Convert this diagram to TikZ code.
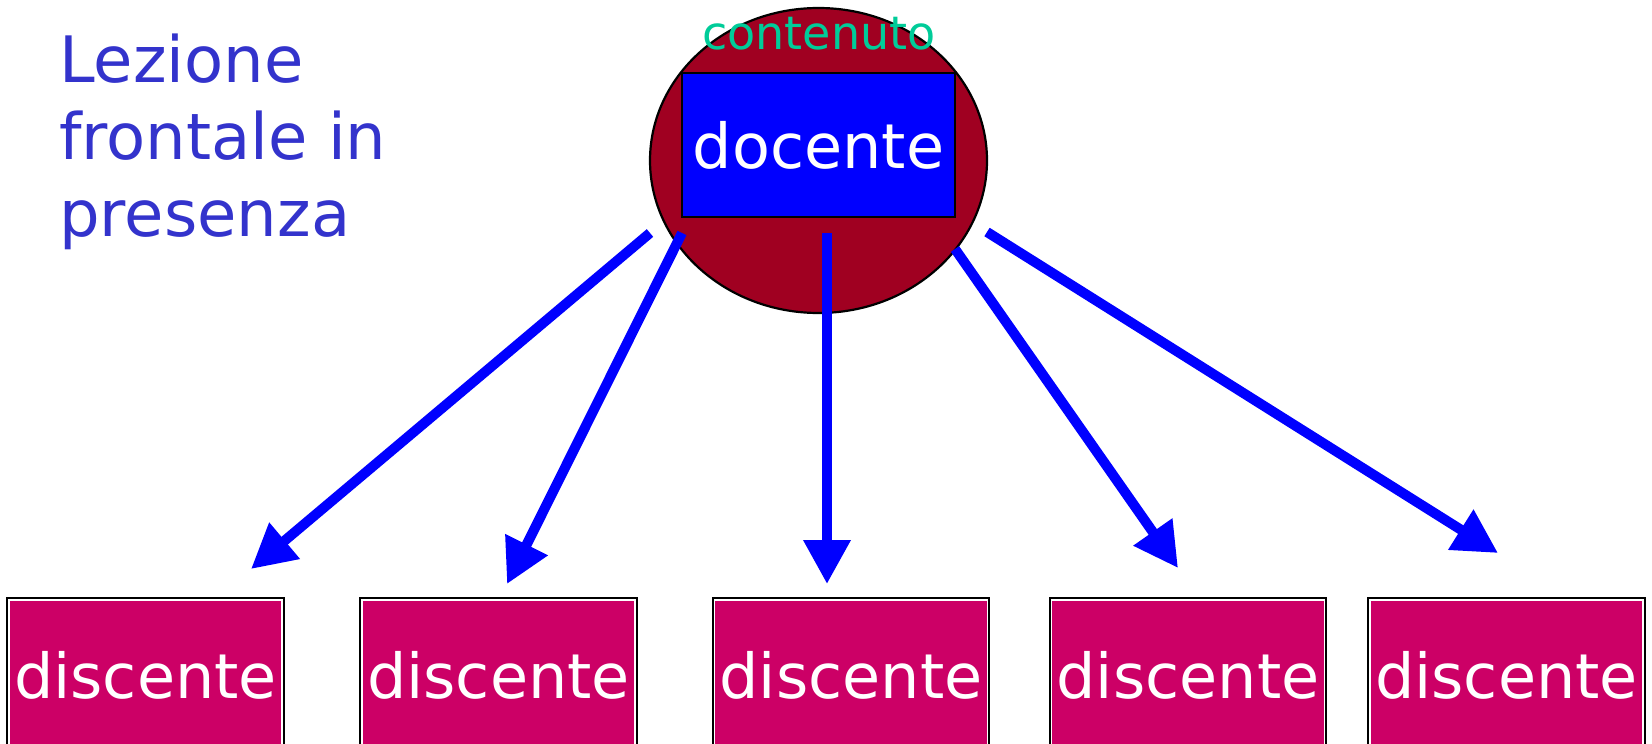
\documentclass[tikz,border=0pt]{standalone}
\usepackage{fontspec}
\setmainfont{DejaVu Sans}
\usetikzlibrary{shapes.geometric,arrows.meta}
\definecolor{ellred}{HTML}{A00021}
\definecolor{boxmag}{HTML}{CC0066}
\definecolor{docblue}{HTML}{0000FF}
\definecolor{titleblue}{HTML}{3333CC}
\definecolor{contgreen}{HTML}{00CC99}
\tikzset{
  pupil/.style={rectangle, inner sep=0pt, minimum width=273pt, minimum height=150pt,
    preaction={draw=black, line width=5.5pt}, fill=boxmag, draw=white, line width=1.5pt,
    text=white, font=\fontsize{62}{62}\selectfont},
  teacher/.style={rectangle, inner sep=0pt, minimum width=273pt, minimum height=144pt,
    fill=docblue, draw=black, line width=2.2pt, text=white, font=\fontsize{62}{62}\selectfont},
  bubble/.style={ellipse, inner sep=0pt, minimum width=337pt, minimum height=305pt,
    fill=ellred, draw=black, line width=2.2pt},
  flow/.style={draw=docblue, line width=10pt,
    -{Triangle[length=44pt,width=45pt]}},
}
\begin{document}
\begin{tikzpicture}[x=1pt,y=-1pt]
\useasboundingbox (0,0) rectangle (1652,744);
\clip (0,0) rectangle (1652,744);
\fill[white] (0,0) rectangle (1652,744);

\node[bubble] (ell) at (818.5,160.5) {};
\node[teacher] (doc) at (818.5,145) {docente};
\node[anchor=base, inner sep=0pt, text=contgreen, font=\fontsize{46}{46}\selectfont] (cont) at (819,49) {contenuto};

\node[anchor=north west, inner sep=0pt, align=left, text=titleblue,
  font=\fontsize{64}{77}\selectfont] (title) at (59,34) {Lezione\\frontale in\\presenza};

\node[pupil] (p1) at (145.5,675) {discente};
\node[pupil] (p2) at (498.5,675) {discente};
\node[pupil] (p3) at (851,675) {discente};
\node[pupil] (p4) at (1188,675) {discente};
\node[pupil] (p5) at (1506.5,675) {discente};

\coordinate (s1) at (650,233);
\coordinate (t1) at (251,569);
\coordinate (s2) at (682,233);
\coordinate (t2) at (507,584);
\coordinate (s3) at (827,233);
\coordinate (t3) at (827,584);
\coordinate (s4) at (955,249);
\coordinate (t4) at (1178,568);
\coordinate (s5) at (987,232);
\coordinate (t5) at (1498,553);

\draw[flow] (s1) -- (t1);
\draw[flow] (s2) -- (t2);
\draw[flow] (s3) -- (t3);
\draw[flow] (s4) -- (t4);
\draw[flow] (s5) -- (t5);
\end{tikzpicture}
\end{document}
